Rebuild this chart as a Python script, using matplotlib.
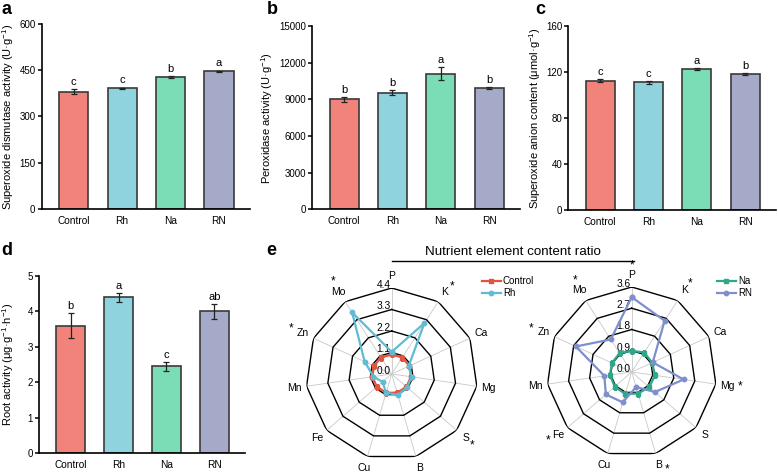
import numpy as np
import matplotlib
matplotlib.use('Agg')
import matplotlib.pyplot as plt
from matplotlib.lines import Line2D

plt.rcParams['font.family'] = ['Liberation Sans', 'DejaVu Sans']
plt.rcParams['mathtext.fontset'] = 'custom'
plt.rcParams['mathtext.rm'] = 'Liberation Sans'
plt.rcParams['mathtext.default'] = 'regular'

# --- data ---
grupos = ['Control', 'Rh', 'Na', 'RN']
colores = ['#F2837A', '#8FD3DF', '#7BDDB6', '#A6AAC9']

sod = [381, 392, 429, 447]
sod_err = [8, 2, 3, 2]
sod_letras = ['c', 'c', 'b', 'a']

pod = [9000, 9550, 11100, 9900]
pod_err = [200, 220, 550, 100]
pod_letras = ['b', 'b', 'a', 'b']

anion = [112.5, 111.0, 123.0, 118.5]
anion_err = [1.2, 1.0, 0.8, 1.0]
anion_letras = ['c', 'c', 'a', 'b']

raiz = [3.6, 4.4, 2.45, 4.0]
raiz_err = [0.35, 0.12, 0.12, 0.22]
raiz_letras = ['b', 'a', 'c', 'ab']

elementos = ['P', 'K', 'Ca', 'Mg', 'S', 'B', 'Cu', 'Fe', 'Mn', 'Zn', 'Mo']
control = [1.0, 1.0, 1.0, 1.0, 1.0, 1.0, 1.0, 1.0, 1.0, 1.0, 1.0]
rh = [1.13, 3.1, 0.95, 1.03, 1.05, 1.12, 1.0, 0.62, 0.94, 1.52, 3.75]
na = [0.9, 0.98, 0.95, 1.0, 0.98, 0.95, 0.97, 0.95, 0.93, 0.92, 0.95]
rn = [3.17, 2.58, 0.98, 2.22, 1.3, 0.66, 1.34, 1.45, 1.17, 2.6, 1.64]
# asteriscos: elemento -> desplazamiento en pixeles
ast_izq = {'Mo': (-6, 10), 'K': (7, 5), 'Zn': (-11, 5), 'S': (6, -7)}
ast_der = {'P': (0, 10), 'K': (6, 7), 'Mo': (-4, 10), 'Zn': (-12, 3),
           'Mg': (12, -1), 'Fe': (-10, -5), 'B': (8, -4)}

fig = plt.figure(figsize=(7.78, 4.75), dpi=100)


def barras(pos, vals, errs, letras, ymax, paso, ylabel, ylx, letra_panel, lx, ly):
    ax = fig.add_axes(pos)
    x = np.arange(len(grupos))
    ax.bar(x, vals, width=0.6, color=colores, edgecolor='#3a3a3a', linewidth=1.2,
           yerr=errs, capsize=2,
           error_kw=dict(elinewidth=0.9, capthick=0.9, ecolor='#222222'))
    for xi, v, e, l in zip(x, vals, errs, letras):
        ax.annotate(l, xy=(xi, v + e), xytext=(0, 1.5), textcoords='offset points',
                    ha='center', va='bottom', fontsize=8)
    ax.set_xlim(-0.66, 3.64)
    ax.set_ylim(0, ymax)
    ax.set_yticks(np.arange(0, ymax + paso / 2, paso))
    ax.set_xticks(x)
    ax.set_xticklabels(grupos, fontsize=7.3)
    ax.tick_params(axis='y', labelsize=7, length=3, width=1.1, pad=1.5)
    ax.tick_params(axis='x', length=0, pad=5)
    for s in ['top', 'right']:
        ax.spines[s].set_visible(False)
    for s in ['left', 'bottom']:
        ax.spines[s].set_linewidth(1.2)
    ax.set_ylabel(ylabel, fontsize=8)
    ax.yaxis.set_label_coords(ylx, 0.5)
    fig.text(lx, ly, letra_panel, fontsize=13, fontweight='bold', va='top', ha='left')
    return ax


barras([0.0536, 0.56, 0.2677, 0.3895], sod, sod_err, sod_letras, 600, 150,
       'Superoxide dismutase activity (U·g$^{-1}$)', -0.125, 'a', 0.002, 0.998)
barras([0.4014, 0.5594, 0.267, 0.386], pod, pod_err, pod_letras, 15000, 3000,
       'Peroxidase activity (U·g$^{-1}$)', -0.18, 'b', 0.343, 0.998)
barras([0.7305, 0.558, 0.267, 0.387], anion, anion_err, anion_letras, 160, 40,
       'Superoxide anion content (μmol·g$^{-1}$)', -0.12, 'c', 0.688, 0.998)
barras([0.0501, 0.0457, 0.2648, 0.3732], raiz, raiz_err, raiz_letras, 5, 1,
       'Root activity (μg·g$^{-1}$·h$^{-1}$)', -0.111, 'd', 0.002, 0.49)


def radar(pos, series, estilos, rmax, paso, asteriscos, legpos):
    ax = fig.add_axes(pos, projection='polar')
    n = len(elementos)
    ang = np.arange(n) * 2 * np.pi / n
    ang_c = np.append(ang, ang[0])
    ax.set_theta_zero_location('N')
    ax.set_theta_direction(-1)
    ax.set_ylim(0, rmax)
    ax.grid(False)
    ax.spines['polar'].set_visible(False)
    ax.set_xticks([])
    ax.set_yticks([])
    ax.patch.set_alpha(0)
    for a in ang:
        ax.plot([a, a], [0, rmax], color='#c8c8c8', lw=0.6, zorder=1)
    anillos = np.arange(paso, rmax + paso / 2, paso)
    for r in anillos:
        ax.plot(ang_c, [r] * (n + 1), color='black', lw=1.0, zorder=2)
    for r in np.append(0, anillos):
        ax.annotate(f'{r:.1f}', xy=(0, r), xytext=(-8, 3), textcoords='offset pixels',
                    ha='center', va='center', fontsize=7.3, zorder=3,
                    annotation_clip=False)
    for a, el in zip(ang, elementos):
        ax.text(a, rmax * 1.14, el, ha='center', va='center', fontsize=7.5)
        if el in asteriscos:
            dx, dy = asteriscos[el]
            ax.annotate('*', xy=(a, rmax * 1.14), xytext=(dx, dy),
                        textcoords='offset pixels', ha='center', va='center',
                        fontsize=8.5, annotation_clip=False)
    for vals, (lab, col, mk) in zip(series, estilos):
        v = np.append(vals, vals[0])
        ax.plot(ang_c, v, color=col, lw=1.6, marker=mk, markersize=3.2,
                label=lab, zorder=4)
    ax.legend(loc='upper left', bbox_to_anchor=legpos, bbox_transform=fig.transFigure,
              frameon=False, fontsize=7, handlelength=2.0, handletextpad=0.2,
              labelspacing=0.15, borderaxespad=0, borderpad=0)
    return ax


radar([0.3929, 0.0316, 0.2211, 0.3621], [control, rh],
      [('Control', '#E2543E', 's'), ('Rh', '#5FBCD2', 'o')],
      4.4, 1.1, ast_izq, (0.619, 0.418))
radar([0.7027, 0.0379, 0.2185, 0.3579], [na, rn],
      [('Na', '#2FA78A', 's'), ('RN', '#7D8FCC', 'o')],
      3.6, 0.9, ast_der, (0.921, 0.418))

fig.text(0.659, 1 - 252 / 475, 'Nutrient element content ratio', ha='center', va='center',
         fontsize=9.6)
fig.add_artist(Line2D([392 / 778, 634 / 778], [1 - 261 / 475, 1 - 261 / 475],
                      color='black', lw=1.0, transform=fig.transFigure))
fig.text(0.342, 0.49, 'e', fontsize=13, fontweight='bold', va='top', ha='left')

fig.savefig('out.png', dpi=100)
